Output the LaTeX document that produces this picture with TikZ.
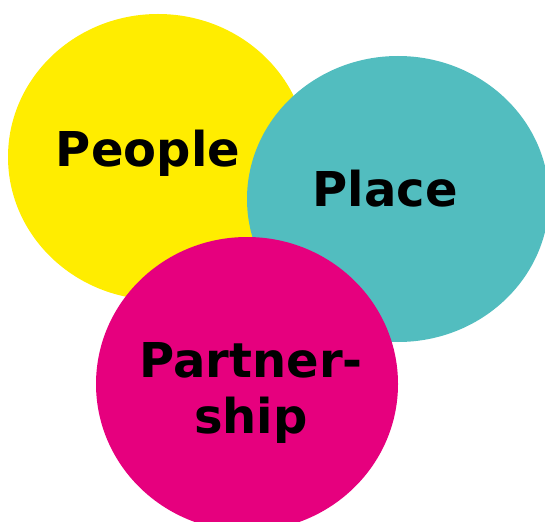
\documentclass[tikz,border=0pt]{standalone}
\usepackage{fontspec}
\setmainfont{DejaVu Sans}
\usepackage{tikz}

\tikzset{
	bubbletext/.style={font=\bfseries\fontsize{48}{56}\selectfont, anchor=base, align=center, inner sep=0pt}
}
\definecolor{peopleyellow}{HTML}{FFED00}
\definecolor{placeteal}{HTML}{52BDBF}
\definecolor{partnerpink}{HTML}{E6007E}

\begin{document}
\begin{tikzpicture}[x=1pt, y=-1pt]
		\useasboundingbox (0,0) rectangle (545,521);
		\fill[peopleyellow] (158,157) ellipse (150 and 143);
		\fill[placeteal] (398,199) ellipse (151 and 143);
		\fill[partnerpink] (247,384) ellipse (151 and 147);

		\node[bubbletext] (people) at (148,167) {People};
		\node[bubbletext] (place) at (385,207) {Place};
		\node[bubbletext] (partner) at (251,377) {Partner-};
		\node[bubbletext] (ship) at (251,433) {ship};
	\end{tikzpicture}
\end{document}
